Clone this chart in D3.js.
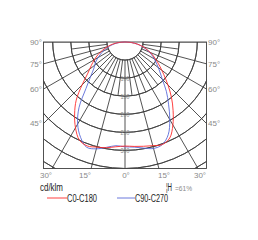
<!DOCTYPE html>
<html><head><meta charset="utf-8">
<script src="https://cdn.jsdelivr.net/npm/d3@7"></script>
<style>body{margin:0;background:#fff}svg{display:block}</style>
</head><body>
<script>
const gammas = [-90,-85,-80,-75,-70,-65,-60,-55,-50,-45,-40,-35,-30,-25,-20,-15,-10,-5,0,5,10,15,20,25,30,35,40,45,50,55,60,65,70,75,80,85,90];
const c0c180 = [0,18,35,50,66,82,98,114,134,168,210,243,274,299,306,301,297,291,288,290,293,297,302,293,265,232,200,168,140,118,100,84,68,52,36,18,0];
const c90c270 = [0,15,30,44,58,72,86,100,112,134,168,222,262,291,310,306,296,288,290,292,298,305,302,283,248,210,178,146,125,108,94,80,65,50,35,18,0];
const ringValues = [50,100,150,200,250,300,350,400,450];
const ringLabels = [100,150,200,250,300];
const sideAngles = [90,75,60,45];
const bottomAngles = [-30,-15,0,15,30];
const seriesNames = ["C0-C180","C90-C270"];
const unitLabel = "cd/klm";
const effLabel = "¦H", effValue = "=61%";

const W=258,H=240;
const svg=d3.select("body").append("svg").attr("width",W).attr("height",H);
svg.append("rect").attr("width",W).attr("height",H).attr("fill","#fff");
const box={x0:43.5,x1:206.5,y0:42,y1:168.5};
const cx=(box.x0+box.x1)/2, cy=box.y0;
const r=d3.scaleLinear().domain([0,350]).range([0,126.5]);
const rad=g=>Math.PI-g*Math.PI/180;
svg.append("clipPath").attr("id","clip").append("rect")
  .attr("x",box.x0).attr("y",box.y0).attr("width",box.x1-box.x0).attr("height",box.y1-box.y0);
const grid=svg.append("g").attr("clip-path","url(#clip)").append("g").attr("transform",`translate(${cx},${cy})`);
const gridColor="#3f3f3f";
ringValues.forEach(v=>{
  grid.append("path").attr("d",d3.arc()({innerRadius:r(v),outerRadius:r(v),startAngle:Math.PI/2,endAngle:3*Math.PI/2}))
   .attr("fill","none").attr("stroke",gridColor).attr("stroke-width",0.9);
});
const radial=d3.lineRadial().angle(d=>d[0]).radius(d=>d[1]);
d3.range(-90,91,7.5).forEach(g=>{
  const major=g%15===0;
  const outer=major?r(600):r(150);
  grid.append("path").attr("d",radial([[rad(g),r(50)],[rad(g),outer]]))
    .attr("stroke",gridColor).attr("stroke-width",0.9).attr("fill","none");
});
svg.append("rect").attr("x",box.x0).attr("y",box.y0).attr("width",box.x1-box.x0).attr("height",box.y1-box.y0)
  .attr("fill","none").attr("stroke",gridColor).attr("stroke-width",0.9);

const lab="#8a8a8a";
const ff="'Liberation Sans',Arial,sans-serif";
ringLabels.forEach(v=>{
  svg.append("text").attr("x",cx).attr("y",cy+r(v)).attr("dy","0.35em").attr("text-anchor","middle")
    .attr("font-family",ff).attr("font-size",7).attr("fill",lab)
    .attr("textLength",9).attr("lengthAdjust","spacingAndGlyphs").text(v);
});
sideAngles.forEach(a=>{
  const y=cy+(cx-box.x0)/Math.tan(a*Math.PI/180);
  svg.append("text").attr("x",box.x0-1.5).attr("y",y).attr("dy","0.35em").attr("text-anchor","end")
    .attr("font-family",ff).attr("font-size",8).attr("fill",lab).text(a+"°");
  svg.append("text").attr("x",box.x1+1.5).attr("y",y).attr("dy","0.35em").attr("text-anchor","start")
    .attr("font-family",ff).attr("font-size",8).attr("fill",lab).text(a+"°");
});
const bx=[46,85,126,164,200];
bottomAngles.forEach((a,i)=>{
  svg.append("text").attr("x",bx[i]).attr("y",178).attr("text-anchor","middle")
    .attr("font-family",ff).attr("font-size",8).attr("fill",lab).text(Math.abs(a)+"°");
});

const colors=["#ff2a2a","#5a6ad8"];
const curve=d3.lineRadial().angle(d=>rad(d[0])).radius(d=>r(d[1])).curve(d3.curveCatmullRom);
[c90c270,c0c180].forEach((vals,k)=>{
  svg.append("path").attr("transform",`translate(${cx},${cy})`)
    .attr("d",curve(gammas.map((g,i)=>[g,vals[i]])))
    .attr("fill","none").attr("stroke",colors[1-k]).attr("stroke-width",0.9);
});

svg.append("text").attr("x",40).attr("y",191).attr("font-family",ff).attr("font-size",10).attr("fill","#222")
  .attr("textLength",23).attr("lengthAdjust","spacingAndGlyphs").text(unitLabel);
svg.append("text").attr("x",166).attr("y",191).attr("font-family",ff).attr("font-size",10).attr("fill","#222")
  .attr("textLength",6).attr("lengthAdjust","spacingAndGlyphs").text(effLabel);
svg.append("text").attr("x",175).attr("y",191).attr("font-family",ff).attr("font-size",8).attr("fill",lab)
  .attr("textLength",17).attr("lengthAdjust","spacingAndGlyphs").text(effValue);
const legX=[[47,67],[117,135]];
const legW=[30,33];
seriesNames.forEach((n,i)=>{
  svg.append("line").attr("x1",legX[i][0]).attr("x2",legX[i][1]).attr("y1",198).attr("y2",198)
    .attr("stroke",colors[i]).attr("stroke-width",0.9);
  svg.append("text").attr("x",legX[i][1]).attr("y",201.5).attr("font-family",ff).attr("font-size",10).attr("fill","#222")
    .attr("textLength",legW[i]).attr("lengthAdjust","spacingAndGlyphs").text(n);
});
</script>
</body></html>
